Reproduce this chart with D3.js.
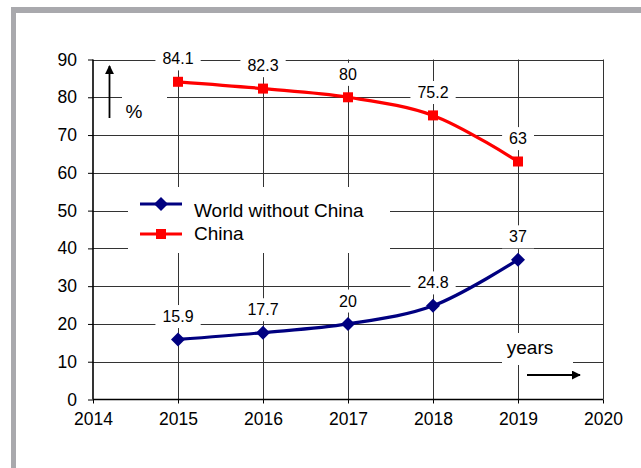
<!DOCTYPE html>
<html lang="en">
<head>
    <meta charset="UTF-8">
    <title>World without China vs China, %</title>
    <style>
        body { margin: 0; background: #fff; }
        svg text { font-family: "Liberation Sans", Arial, sans-serif; fill: #000; }
        .grid { stroke: #333; stroke-width: 1px; }
    </style>
</head>
<body>
    <svg width="641" height="468"></svg>
    <script src="https://d3js.org/d3.v7.min.js"></script>
    <script>
        const years = [2015, 2016, 2017, 2018, 2019];
        const worldNoChina = [15.9, 17.7, 20, 24.8, 37];
        const china = [84.1, 82.3, 80, 75.2, 63];
        const xTickLabels = [2014, 2015, 2016, 2017, 2018, 2019, 2020];
        const yTickLabels = [0, 10, 20, 30, 40, 50, 60, 70, 80, 90];
        const seriesNames = ["World without China", "China"];

        const svg = d3.select("svg");

        // outer grey frame (runs off the right and bottom edges)
        svg.append("rect").attr("x", 11).attr("y", 7).attr("width", 630).attr("height", 6).attr("fill", "#a9a9ad");
        svg.append("rect").attr("x", 11).attr("y", 7).attr("width", 5).attr("height", 461).attr("fill", "#a9a9ad");

        const x = d3.scaleLinear().domain([2014, 2020]).range([93, 603]);
        const y = d3.scaleLinear().domain([0, 90]).range([399.5, 59.5]);

        const g = svg.append("g");

        // grid
        g.selectAll(".hgrid").data(yTickLabels.slice(1)).enter().append("line")
            .attr("class", "grid")
            .attr("x1", x(2014)).attr("x2", x(2020))
            .attr("y1", d => Math.round(y(d)) + 0.5).attr("y2", d => Math.round(y(d)) + 0.5);
        g.selectAll(".vgrid").data(xTickLabels.slice(1)).enter().append("line")
            .attr("class", "grid")
            .attr("x1", d => Math.round(x(d)) + 0.5).attr("x2", d => Math.round(x(d)) + 0.5)
            .attr("y1", y(90)).attr("y2", y(0));

        // axes
        const xAxis = g.append("g").attr("transform", "translate(0," + y(0) + ")")
            .call(d3.axisBottom(x).tickValues(xTickLabels).tickFormat(d3.format("d")).tickSize(4).tickPadding(9));
        const yAxis = g.append("g").attr("transform", "translate(" + x(2014) + ",0)")
            .call(d3.axisLeft(y).tickValues(yTickLabels).tickSize(5).tickPadding(11));
        [xAxis, yAxis].forEach(a => {
            a.select(".domain").attr("stroke", "#000").attr("stroke-width", 1.6);
            a.selectAll(".tick line").attr("stroke", "#000");
            a.selectAll("text").style("font-size", "17.5px").attr("fill", "#000");
        });
        xAxis.select(".domain").attr("d", "M" + x(2014) + ",0H" + x(2020));
        yAxis.select(".domain").attr("d", "M0," + y(0) + "V" + y(90));

        // white boxes for "%" and "years" notes and legend
        g.append("rect").attr("x", 122).attr("y", 88).attr("width", 45).attr("height", 40).attr("fill", "#fff");
        g.append("rect").attr("x", 502).attr("y", 333).attr("width", 71).attr("height", 32).attr("fill", "#fff");
        g.append("rect").attr("x", 128).attr("y", 187).attr("width", 262).attr("height", 66).attr("fill", "#fff");

        // data labels with white background
        function labels(vals) {
            const lg = g.append("g");
            vals.forEach((v, i) => {
                const t = lg.append("text")
                    .attr("x", x(years[i])).attr("y", y(v) - 23)
                    .attr("text-anchor", "middle").attr("dy", "0.35em")
                    .style("font-size", "16px").text(v);
                const b = t.node().getBBox();
                lg.insert("rect", "text")
                    .attr("x", b.x - 7).attr("y", b.y - 3)
                    .attr("width", b.width + 14).attr("height", b.height + 6)
                    .attr("fill", "#fff");
            });
        }
        labels(china);
        labels(worldNoChina);

        const line = d3.line().x((d, i) => x(years[i])).y(d => y(d)).curve(d3.curveCatmullRom.alpha(0.5));

        const diamond = "M0,-7L7,0L0,7L-7,0Z";

        g.append("path").datum(worldNoChina).attr("d", line)
            .attr("fill", "none").attr("stroke", "#000080").attr("stroke-width", 3.2);
        g.selectAll(".wpt").data(worldNoChina).enter().append("path")
            .attr("d", diamond)
            .attr("transform", (d, i) => "translate(" + x(years[i]) + "," + y(d) + ")")
            .attr("fill", "#000080");

        g.append("path").datum(china).attr("d", line)
            .attr("fill", "none").attr("stroke", "#ff0000").attr("stroke-width", 3.2);
        g.selectAll(".cpt").data(china).enter().append("rect")
            .attr("x", (d, i) => x(years[i]) - 5).attr("y", d => y(d) - 5)
            .attr("width", 10).attr("height", 10)
            .attr("fill", "#ff0000");

        // legend
        const leg = g.append("g");
        leg.append("line").attr("x1", 140).attr("x2", 182).attr("y1", 204).attr("y2", 204)
            .attr("stroke", "#000080").attr("stroke-width", 3.2);
        leg.append("path").attr("d", diamond).attr("transform", "translate(161,204)").attr("fill", "#000080");
        leg.append("text").attr("x", 194).attr("y", 217).style("font-size", "19px").text(seriesNames[0]);
        leg.append("line").attr("x1", 140).attr("x2", 182).attr("y1", 234).attr("y2", 234)
            .attr("stroke", "#ff0000").attr("stroke-width", 3.2);
        leg.append("rect").attr("x", 156).attr("y", 229).attr("width", 10).attr("height", 10).attr("fill", "#ff0000");
        leg.append("text").attr("x", 194).attr("y", 240).style("font-size", "19px").text(seriesNames[1]);

        // unit notes with arrows
        svg.append("defs").append("marker").attr("id", "ah")
            .attr("viewBox", "0 0 10 10").attr("refX", 9).attr("refY", 5)
            .attr("markerWidth", 5).attr("markerHeight", 5).attr("orient", "auto")
            .append("path").attr("d", "M0,0L10,5L0,10Z").attr("fill", "#000");

        g.append("line").attr("x1", 109.5).attr("x2", 109.5).attr("y1", 118).attr("y2", 66)
            .attr("stroke", "#000").attr("stroke-width", 1.8).attr("marker-end", "url(#ah)");
        g.append("text").attr("x", 134).attr("y", 118).attr("text-anchor", "middle")
            .style("font-size", "19px").text("%");

        g.append("line").attr("x1", 527).attr("x2", 580).attr("y1", 375).attr("y2", 375)
            .attr("stroke", "#000").attr("stroke-width", 1.8).attr("marker-end", "url(#ah)");
        g.append("text").attr("x", 530).attr("y", 354).attr("text-anchor", "middle")
            .style("font-size", "19px").text("years");
    </script>
</body>
</html>
